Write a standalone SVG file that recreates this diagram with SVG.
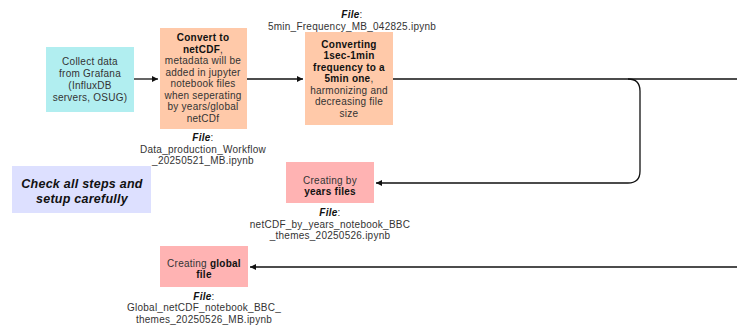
<svg xmlns="http://www.w3.org/2000/svg" width="737" height="329" viewBox="0 0 737 329">
<style>
text{font-family:"Liberation Sans",Arial,sans-serif;font-size:10px;letter-spacing:0.25px;fill:#333;text-anchor:middle}
.b{font-weight:bold;fill:#111}
.bi{font-weight:bold;font-style:italic;fill:#111}
.c{fill:none;stroke:#111;stroke-width:1.3}
</style>
<defs>
<marker id="ah" markerWidth="8" markerHeight="8" refX="6" refY="3" orient="auto" markerUnits="userSpaceOnUse">
<path d="M0,0 L6,3 L0,6 Z" fill="#111"/>
</marker>
</defs>
<rect width="737" height="329" fill="#fff"/>
<g id="connectors">
<line class="c" x1="134" y1="79" x2="158" y2="79" marker-end="url(#ah)"/>
<line class="c" x1="247" y1="79" x2="303" y2="79" marker-end="url(#ah)"/>
<line class="c" x1="393" y1="79" x2="737" y2="79"/>
<path class="c" d="M628 79 Q640 79 640 91 V171 Q640 183 628 183 H376" marker-end="url(#ah)"/>
<line class="c" x1="737" y1="267" x2="250" y2="267" marker-end="url(#ah)"/>
</g>
<g id="collect">
<rect x="46" y="47" width="88" height="65" fill="#b1eef0"/>
<text x="90" y="65">Collect data</text>
<text x="90" y="77">from Grafana</text>
<text x="90" y="89">(InfluxDB</text>
<text x="90" y="101">servers, OSUG)</text>
</g>
<g id="convert">
<rect x="160" y="28" width="87" height="101" fill="#ffc9a9"/>
<text x="203" y="41" class="b">Convert to</text>
<text x="203" y="52.5"><tspan class="b">netCDF</tspan>,</text>
<text x="203" y="64">metadata will be</text>
<text x="203" y="75.5">added in jupyter</text>
<text x="203" y="87">notebook files</text>
<text x="203" y="98.5">when seperating</text>
<text x="203" y="110">by years/global</text>
<text x="203" y="121.5">netCDf</text>
<text x="203" y="141"><tspan class="bi">File</tspan>:</text>
<text x="203" y="152.5">Data_production_Workflow</text>
<text x="203" y="164">_20250521_MB.ipynb</text>
</g>
<g id="converting">
<text x="352" y="18"><tspan class="bi">File</tspan>:</text>
<text x="352" y="29.5">5min_Frequency_MB_042825.ipynb</text>
<rect x="305" y="32" width="88" height="93" fill="#ffc9a9"/>
<text x="349" y="47.5" class="b">Converting</text>
<text x="349" y="59" class="b">1sec-1min</text>
<text x="349" y="70.5" class="b">frequency to a</text>
<text x="349" y="82"><tspan class="b">5min one</tspan>,</text>
<text x="349" y="93.5">harmonizing and</text>
<text x="349" y="105">decreasing file</text>
<text x="349" y="116.5">size</text>
</g>
<g id="years">
<rect x="286" y="162" width="88" height="41" fill="#ffb3b3"/>
<text x="330" y="183.5">Creating by</text>
<text x="330" y="195" class="b">years files</text>
<text x="330" y="216"><tspan class="bi">File</tspan>:</text>
<text x="330" y="227.5">netCDF_by_years_notebook_BBC</text>
<text x="330" y="239">_themes_20250526.ipynb</text>
</g>
<g id="global">
<rect x="160" y="246" width="88" height="41" fill="#ffb3b3"/>
<text x="204" y="266.5">Creating <tspan class="b">global</tspan></text>
<text x="204" y="278" class="b">file</text>
<text x="204" y="299.5"><tspan class="bi">File</tspan>:</text>
<text x="204" y="311">Global_netCDF_notebook_BBC_</text>
<text x="204" y="322.5">themes_20250526_MB.ipynb</text>
</g>
<g id="check">
<rect x="12" y="166" width="139" height="47" fill="#dde0ff"/>
<text x="82" y="188" class="bi" style="font-size:12.5px">Check all steps and</text>
<text x="82" y="203" class="bi" style="font-size:12.5px">setup carefully</text>
</g>
</svg>
